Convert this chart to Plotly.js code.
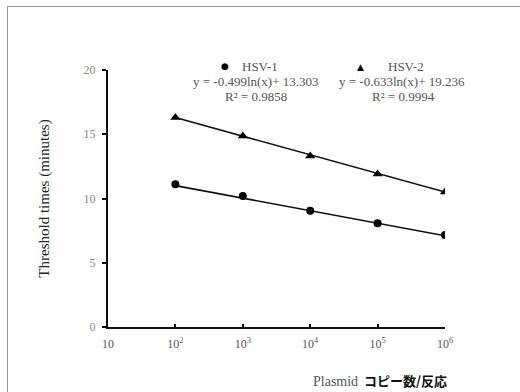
<!DOCTYPE html>
<html><head><meta charset="utf-8">
<script src="https://cdn.plot.ly/plotly-3.0.1.min.js"></script>
<style>
html,body{margin:0;padding:0;background:#fff;}
#wrap{position:relative;width:520px;height:392px;overflow:hidden;}
#chart{width:520px;height:392px;}
#frame{position:absolute;left:7px;top:6px;width:520px;height:400px;border-left:1.5px solid #999;border-top:1.5px solid #999;pointer-events:none;}
</style></head>
<body><div id="wrap"><div id="chart"></div><div id="frame"></div></div>
<script>
// Data
const copies = [1e2, 1e3, 1e4, 1e5, 1e6];
const hsv1 = [11.1, 10.2, 9.05, 8.07, 7.16];
const hsv2 = [16.3, 14.86, 13.3, 11.9, 10.5];
const fitX = [1e2, 1e6];
const fit1 = [11.0, 7.1];
const fit2 = [16.3, 10.5];
const xTickVals = [10, 1e2, 1e3, 1e4, 1e5, 1e6];
const xTickText = ['10', '10<sup>2</sup>', '10<sup>3</sup>', '10<sup>4</sup>', '10<sup>5</sup>', '10<sup>6</sup>'];
const yTickVals = [0, 5, 10, 15, 20];

const serif = 'Liberation Serif, Times New Roman, serif';
const traces = [
  {x: fitX, y: fit1, mode: 'lines', line: {color: '#111', width: 1.6}, showlegend: false, hoverinfo: 'skip'},
  {x: fitX, y: fit2, mode: 'lines', line: {color: '#111', width: 1.6}, showlegend: false, hoverinfo: 'skip'},
  {x: copies, y: hsv1, mode: 'markers', name: 'HSV-1', marker: {symbol: 'circle', size: 8, color: '#000'}},
  {x: copies, y: hsv2, mode: 'markers', name: 'HSV-2', marker: {symbol: 'triangle-up', size: 9, color: '#000'}}
];
const layout = {
  width: 520, height: 392,
  margin: {l: 108, r: 75, t: 70, b: 65},
  paper_bgcolor: '#fff', plot_bgcolor: '#fff',
  showlegend: false,
  xaxis: {
    type: 'log', range: [1, 6],
    tickvals: xTickVals, ticktext: xTickText,
    showgrid: false, zeroline: false,
    showline: true, linecolor: '#111', linewidth: 2,
    ticks: 'inside', ticklen: 3, tickwidth: 2, tickcolor: '#111',
    ticklabelstandoff: 5,
    tickfont: {family: serif, size: 12, color: '#555'}
  },
  yaxis: {
    range: [0, 20], tickvals: yTickVals,
    showgrid: false, zeroline: false,
    showline: true, linecolor: '#111', linewidth: 2,
    ticks: 'outside', ticklen: 4, tickwidth: 2, tickcolor: '#111',
    ticklabelstandoff: 4,
    tickfont: {family: serif, size: 12, color: '#888'},
    title: {text: 'Threshold times (minutes)', font: {family: serif, size: 15, color: '#222'}, standoff: 30}
  },
  annotations: [
    {xref: 'paper', yref: 'paper', x: (449-108)/337, y: (327-380)/257, xanchor: 'right', yanchor: 'middle', showarrow: false,
     text: '<span style="font-family:Liberation Serif;color:#555;font-size:14px">Plasmid</span>  <b>コピー数/反応</b>',
     font: {family: 'Noto Sans CJK JP', size: 13, color: '#111'}},
    {xref: 'paper', yref: 'paper', x: (225-108)/337, y: (327-66)/257, xanchor: 'center', yanchor: 'middle', showarrow: false,
     text: '●', font: {family: 'DejaVu Sans', size: 9, color: '#000'}},
    {xref: 'paper', yref: 'paper', x: (240-108)/337, y: (327-66)/257, xanchor: 'left', yanchor: 'middle', showarrow: false,
     text: 'HSV-1', font: {family: serif, size: 13, color: '#555'}},
    {xref: 'paper', yref: 'paper', x: (256-108)/337, y: (327-82)/257, xanchor: 'center', yanchor: 'middle', showarrow: false,
     text: 'y = -0.499ln(x)+ 13.303', font: {family: serif, size: 13, color: '#555'}},
    {xref: 'paper', yref: 'paper', x: (256-108)/337, y: (327-97)/257, xanchor: 'center', yanchor: 'middle', showarrow: false,
     text: 'R² = 0.9858', font: {family: serif, size: 13, color: '#555'}},
    {xref: 'paper', yref: 'paper', x: (360-108)/337, y: (327-67)/257, xanchor: 'center', yanchor: 'middle', showarrow: false,
     text: '▲', font: {family: 'DejaVu Sans', size: 9, color: '#000'}},
    {xref: 'paper', yref: 'paper', x: (386-108)/337, y: (327-66)/257, xanchor: 'left', yanchor: 'middle', showarrow: false,
     text: 'HSV-2', font: {family: serif, size: 13, color: '#555'}},
    {xref: 'paper', yref: 'paper', x: (402-108)/337, y: (327-82)/257, xanchor: 'center', yanchor: 'middle', showarrow: false,
     text: 'y = -0.633ln(x)+ 19.236', font: {family: serif, size: 13, color: '#555'}},
    {xref: 'paper', yref: 'paper', x: (403-108)/337, y: (327-97)/257, xanchor: 'center', yanchor: 'middle', showarrow: false,
     text: 'R² = 0.9994', font: {family: serif, size: 13, color: '#555'}}
  ]
};
Plotly.newPlot('chart', traces, layout, {displayModeBar: false, staticPlot: true});
</script></body></html>
